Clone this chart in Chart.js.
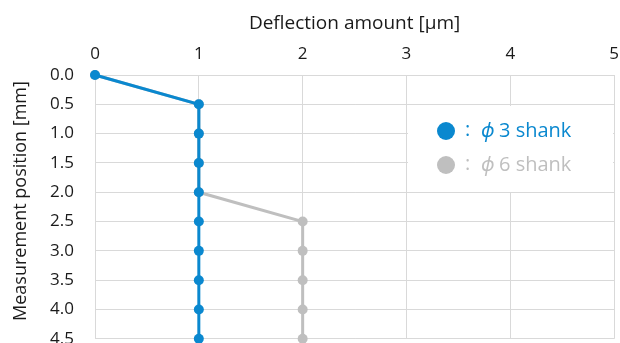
<!DOCTYPE html>
<html>
<head>
<meta charset="utf-8">
<script src="https://cdn.jsdelivr.net/npm/chart.js@4/dist/chart.umd.min.js"></script>
<style>
  html, body { margin: 0; padding: 0; background: #fff; overflow: hidden; }
  #wrap { width: 630px; height: 370px; position: relative; }
</style>
</head>
<body>
<div id="wrap"><canvas id="c" width="630" height="370"></canvas></div>
<script>
// Measurement positions along the tool [mm]
const positions = [0.0, 0.5, 1.0, 1.5, 2.0, 2.5, 3.0, 3.5, 4.0, 4.5];
// Deflection at each position [µm]
const phi3Deflection = [0, 1, 1, 1, 1, 1, 1, 1, 1, 1];
const phi6Deflection = [0, 1, 1, 1, 1, 2, 2, 2, 2, 2];
const xTicks = [0, 1, 2, 3, 4, 5];
const seriesNames = ['\u03D53 shank', '\u03D56 shank'];
const yTitle = 'Measurement position [mm]';

const BLUE = '#0A88CF';
const GRAY = '#BFBFBF';
const TEXT = '#1A1A1A';
const FONT = '"Open Sans", "Noto Sans", sans-serif';

const toPoints = vals => vals.map((v, i) => ({ x: v, y: positions[i] }));

// white panel with the series key, drawn inside the plot, plus the vertical axis title
const decorations = {
  id: 'decorations',
  afterDatasetsDraw(chart) {
    const ctx = chart.ctx;
    ctx.save();
    ctx.fillStyle = '#fff';
    ctx.fillRect(408, 106, 205, 86);
    const rows = [[seriesNames[0], BLUE, 131], [seriesNames[1], GRAY, 165]];
    ctx.textBaseline = 'middle';
    ctx.textAlign = 'left';
    rows.forEach(([name, col, y]) => {
      ctx.fillStyle = col;
      ctx.beginPath();
      ctx.arc(446, y, 9, 0, Math.PI * 2);
      ctx.fill();
      ctx.font = '20px ' + FONT;
      ctx.fillText(':', 465, y - 1);
      ctx.font = 'italic 20px ' + FONT;
      ctx.fillText(name.charAt(0), 481, y);
      ctx.font = '20px ' + FONT;
      ctx.fillText(name.slice(1), 499, y);
    });
    ctx.restore();

    ctx.save();
    ctx.translate(21, 201);
    ctx.rotate(-Math.PI / 2);
    ctx.fillStyle = TEXT;
    ctx.font = '18px ' + FONT;
    ctx.textAlign = 'center';
    ctx.textBaseline = 'middle';
    ctx.fillText(yTitle, 0, 0);
    ctx.restore();
  }
};

new Chart(document.getElementById('c'), {
  type: 'line',
  data: {
    datasets: [
      {
        label: seriesNames[0],
        data: toPoints(phi3Deflection),
        borderColor: BLUE,
        backgroundColor: BLUE,
        borderWidth: 3,
        pointRadius: 5,
        pointBorderWidth: 0,
        tension: 0,
        clip: false,
        order: 0
      },
      {
        label: seriesNames[1],
        data: toPoints(phi6Deflection),
        borderColor: GRAY,
        backgroundColor: GRAY,
        borderWidth: 3,
        pointRadius: 5,
        pointBorderWidth: 0,
        tension: 0,
        clip: false,
        order: 1
      }
    ]
  },
  options: {
    responsive: false,
    animation: false,
    layout: { padding: { left: 0, right: 1, top: 0, bottom: 11 } },
    plugins: { legend: { display: false }, tooltip: { enabled: false } },
    scales: {
      x: {
        type: 'linear',
        position: 'top',
        min: 0,
        max: 5,
        afterBuildTicks: s => { s.ticks = xTicks.map(v => ({ value: v })); },
        ticks: { color: TEXT, font: { family: FONT, size: 17 }, padding: 11 },
        grid: { color: '#D9D9D9', lineWidth: 1, drawTicks: false },
        border: { color: '#D9D9D9' },
        title: {
          display: true,
          text: 'Deflection amount [\u03BCm]',
          color: TEXT,
          font: { family: FONT, size: 19 },
          padding: { top: 12, bottom: 0 }
        },
        afterFit: s => { s.height = 75; }
      },
      y: {
        type: 'linear',
        reverse: true,
        min: 0,
        max: 4.5,
        afterBuildTicks: s => { s.ticks = positions.map(v => ({ value: v })); },
        ticks: {
          color: TEXT,
          font: { family: FONT, size: 17 },
          padding: 21,
          callback: v => Number(v).toFixed(1)
        },
        grid: { color: '#D9D9D9', lineWidth: 1, drawTicks: false },
        border: { color: '#D9D9D9' },
        afterFit: s => { s.width = 95; }
      }
    }
  },
  plugins: [decorations]
});
</script>
</body>
</html>
